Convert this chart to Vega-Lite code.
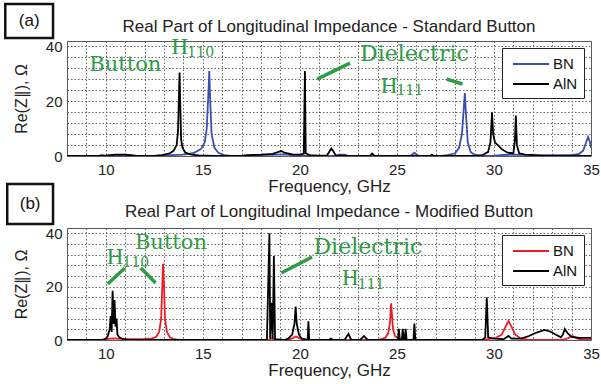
{
  "$schema": "https://vega.github.io/schema/vega-lite/v6.json",
  "background": "white",
  "padding": {"left": 3, "top": 2, "right": 0, "bottom": 2},
  "config": {
    "font": "Liberation Sans",
    "view": {"stroke": "#555", "strokeWidth": 1},
    "axis": {"grid": true, "gridColor": "#666", "gridDash": [1.5, 2], "gridWidth": 1, "domain": false, "ticks": false, "tickSize": 0, "labelOverlap": false, "labelFontSize": 15, "labelColor": "#222", "titleFontSize": 17, "titleColor": "#222", "titleFontWeight": "normal", "labelFont": "Liberation Sans", "titleFont": "Liberation Sans"},
    "title": {"fontSize": 17, "fontWeight": "normal", "color": "#222", "font": "Liberation Sans", "frame": "group"},
    "legend": {"orient": "top-right", "offset": 7, "strokeColor": "#222", "fillColor": "white", "padding": 6, "labelFontSize": 15, "labelColor": "#111", "labelFont": "Liberation Sans", "symbolType": "M-2,0H2", "symbolSize": 324, "symbolStrokeWidth": 2, "symbolOffset": 13, "labelOffset": 12, "rowPadding": 2, "cornerRadius": 0}
  },
  "datasets": {
    "aBN": [
      {"freq": 8, "re": 0}, {"freq": 9.6, "re": 0}, {"freq": 9.8, "re": 0.4}, {"freq": 10.0, "re": 0}, {"freq": 12.5, "re": 0}, {"freq": 13.0, "re": 0.2}, {"freq": 14.0, "re": 0.5}, {"freq": 14.5, "re": 1}, {"freq": 14.9, "re": 2.5}, {"freq": 15.1, "re": 5}, {"freq": 15.2, "re": 10}, {"freq": 15.28, "re": 22}, {"freq": 15.33, "re": 31}, {"freq": 15.38, "re": 20}, {"freq": 15.45, "re": 8}, {"freq": 15.6, "re": 3}, {"freq": 15.8, "re": 1.2}, {"freq": 16.1, "re": 0.3}, {"freq": 16.5, "re": 0}, {"freq": 17.3, "re": 0}, {"freq": 17.6, "re": 0.3}, {"freq": 18.5, "re": 0.4}, {"freq": 19.2, "re": 0.6}, {"freq": 19.6, "re": 0.3}, {"freq": 20, "re": 0}, {"freq": 21.8, "re": 0}, {"freq": 22.0, "re": 0.4}, {"freq": 22.3, "re": 0.5}, {"freq": 22.5, "re": 0}, {"freq": 25.7, "re": 0}, {"freq": 25.9, "re": 1.2}, {"freq": 26.1, "re": 0}, {"freq": 27.3, "re": 0}, {"freq": 27.6, "re": 0.3}, {"freq": 28.0, "re": 1}, {"freq": 28.2, "re": 3}, {"freq": 28.35, "re": 8}, {"freq": 28.45, "re": 18}, {"freq": 28.5, "re": 23}, {"freq": 28.56, "re": 15}, {"freq": 28.65, "re": 5}, {"freq": 28.8, "re": 1.5}, {"freq": 29.0, "re": 0.4}, {"freq": 29.3, "re": 0}, {"freq": 30.0, "re": 0}, {"freq": 30.3, "re": 0.3}, {"freq": 31, "re": 0.5}, {"freq": 32, "re": 0.3}, {"freq": 33, "re": 0.3}, {"freq": 34, "re": 0.3}, {"freq": 34.4, "re": 0.8}, {"freq": 34.6, "re": 2}, {"freq": 34.75, "re": 5}, {"freq": 34.85, "re": 7}, {"freq": 34.95, "re": 5}, {"freq": 35, "re": 3}
    ],
    "aAlN": [
      {"freq": 8, "re": 0}, {"freq": 9.9, "re": 0}, {"freq": 10.2, "re": 0.3}, {"freq": 10.5, "re": 0.5}, {"freq": 11.0, "re": 0.5}, {"freq": 11.3, "re": 0.3}, {"freq": 11.6, "re": 0}, {"freq": 12.5, "re": 0}, {"freq": 12.9, "re": 0.3}, {"freq": 13.3, "re": 1}, {"freq": 13.5, "re": 2}, {"freq": 13.65, "re": 4}, {"freq": 13.72, "re": 9}, {"freq": 13.76, "re": 20}, {"freq": 13.8, "re": 30.5}, {"freq": 13.84, "re": 18}, {"freq": 13.88, "re": 6}, {"freq": 13.95, "re": 3}, {"freq": 14.1, "re": 1.2}, {"freq": 14.4, "re": 0.5}, {"freq": 14.8, "re": 0.2}, {"freq": 15.5, "re": 0}, {"freq": 17.0, "re": 0}, {"freq": 17.3, "re": 0.3}, {"freq": 18.0, "re": 0.5}, {"freq": 18.6, "re": 0.8}, {"freq": 18.9, "re": 1.5}, {"freq": 19.05, "re": 1.8}, {"freq": 19.2, "re": 1.2}, {"freq": 19.6, "re": 0.6}, {"freq": 20.0, "re": 0.5}, {"freq": 20.2, "re": 0.8}, {"freq": 20.26, "re": 31}, {"freq": 20.3, "re": 1}, {"freq": 20.5, "re": 0.3}, {"freq": 20.9, "re": 0.1}, {"freq": 21.4, "re": 0.2}, {"freq": 21.55, "re": 2}, {"freq": 21.62, "re": 2.7}, {"freq": 21.7, "re": 2}, {"freq": 21.85, "re": 0.2}, {"freq": 22.5, "re": 0}, {"freq": 23.6, "re": 0}, {"freq": 23.72, "re": 0.9}, {"freq": 23.85, "re": 0}, {"freq": 26.7, "re": 0}, {"freq": 26.8, "re": 0.5}, {"freq": 26.9, "re": 0}, {"freq": 29.0, "re": 0}, {"freq": 29.4, "re": 0.3}, {"freq": 29.7, "re": 1.5}, {"freq": 29.82, "re": 5}, {"freq": 29.9, "re": 16}, {"freq": 29.96, "re": 8}, {"freq": 30.05, "re": 5}, {"freq": 30.2, "re": 4}, {"freq": 30.4, "re": 2.5}, {"freq": 30.7, "re": 1.2}, {"freq": 31.0, "re": 1}, {"freq": 31.08, "re": 6}, {"freq": 31.13, "re": 14.8}, {"freq": 31.18, "re": 4}, {"freq": 31.3, "re": 1}, {"freq": 31.6, "re": 0.5}, {"freq": 31.9, "re": 0.4}, {"freq": 32.2, "re": 0.2}, {"freq": 32.5, "re": 0}, {"freq": 35, "re": 0}
    ],
    "bBN": [
      {"freq": 8, "re": 0}, {"freq": 9.9, "re": 0}, {"freq": 10.1, "re": 0.4}, {"freq": 10.4, "re": 0.6}, {"freq": 10.8, "re": 0.4}, {"freq": 11.2, "re": 0.3}, {"freq": 12.0, "re": 0.4}, {"freq": 12.4, "re": 0.6}, {"freq": 12.6, "re": 1.2}, {"freq": 12.75, "re": 3}, {"freq": 12.85, "re": 8}, {"freq": 12.9, "re": 18}, {"freq": 12.95, "re": 28.6}, {"freq": 13.0, "re": 20}, {"freq": 13.05, "re": 8}, {"freq": 13.15, "re": 3}, {"freq": 13.3, "re": 1}, {"freq": 13.5, "re": 0.3}, {"freq": 13.8, "re": 0}, {"freq": 18.4, "re": 0}, {"freq": 18.55, "re": 0.6}, {"freq": 18.7, "re": 0}, {"freq": 19.4, "re": 0}, {"freq": 19.6, "re": 0.6}, {"freq": 19.8, "re": 1.3}, {"freq": 20.0, "re": 0.6}, {"freq": 20.2, "re": 0}, {"freq": 24.0, "re": 0}, {"freq": 24.4, "re": 0.8}, {"freq": 24.55, "re": 2.5}, {"freq": 24.65, "re": 7}, {"freq": 24.7, "re": 13.8}, {"freq": 24.74, "re": 10}, {"freq": 24.8, "re": 4}, {"freq": 24.9, "re": 1.5}, {"freq": 25.1, "re": 0.4}, {"freq": 25.4, "re": 0}, {"freq": 29.5, "re": 0}, {"freq": 29.7, "re": 0.3}, {"freq": 30.1, "re": 0.8}, {"freq": 30.4, "re": 2}, {"freq": 30.6, "re": 5}, {"freq": 30.75, "re": 7.1}, {"freq": 30.9, "re": 5}, {"freq": 31.1, "re": 2}, {"freq": 31.4, "re": 0.5}, {"freq": 31.8, "re": 0}, {"freq": 33.5, "re": 0}, {"freq": 33.8, "re": 0.6}, {"freq": 34.05, "re": 1.5}, {"freq": 34.3, "re": 0.5}, {"freq": 34.6, "re": 0}, {"freq": 35, "re": 0}
    ],
    "bAlN": [
      {"freq": 8, "re": 0}, {"freq": 9.8, "re": 0}, {"freq": 10.0, "re": 0.5}, {"freq": 10.1, "re": 1.5}, {"freq": 10.2, "re": 4}, {"freq": 10.25, "re": 9}, {"freq": 10.3, "re": 3}, {"freq": 10.35, "re": 18.5}, {"freq": 10.4, "re": 6}, {"freq": 10.45, "re": 15}, {"freq": 10.5, "re": 5}, {"freq": 10.55, "re": 8}, {"freq": 10.6, "re": 2}, {"freq": 10.7, "re": 1}, {"freq": 10.9, "re": 0.3}, {"freq": 11.2, "re": 0}, {"freq": 18.3, "re": 0}, {"freq": 18.43, "re": 40}, {"freq": 18.47, "re": 0.5}, {"freq": 18.55, "re": 14}, {"freq": 18.6, "re": 0.5}, {"freq": 18.66, "re": 31.5}, {"freq": 18.72, "re": 0.3}, {"freq": 19.2, "re": 0}, {"freq": 19.4, "re": 0.5}, {"freq": 19.6, "re": 2}, {"freq": 19.72, "re": 6}, {"freq": 19.78, "re": 12.5}, {"freq": 19.84, "re": 6}, {"freq": 19.95, "re": 2}, {"freq": 20.1, "re": 0.5}, {"freq": 20.4, "re": 0}, {"freq": 20.44, "re": 7}, {"freq": 20.48, "re": 0}, {"freq": 21.5, "re": 0}, {"freq": 21.6, "re": 0.5}, {"freq": 21.7, "re": 0}, {"freq": 22.3, "re": 0}, {"freq": 22.5, "re": 2.3}, {"freq": 22.65, "re": 0}, {"freq": 23.1, "re": 0}, {"freq": 23.3, "re": 1.5}, {"freq": 23.5, "re": 0}, {"freq": 25.05, "re": 0}, {"freq": 25.1, "re": 4.2}, {"freq": 25.15, "re": 0}, {"freq": 25.25, "re": 0}, {"freq": 25.3, "re": 4.2}, {"freq": 25.35, "re": 0}, {"freq": 25.4, "re": 0}, {"freq": 25.45, "re": 4.2}, {"freq": 25.5, "re": 0}, {"freq": 25.85, "re": 0}, {"freq": 25.9, "re": 6.2}, {"freq": 25.95, "re": 0}, {"freq": 29.4, "re": 0}, {"freq": 29.55, "re": 1}, {"freq": 29.63, "re": 16}, {"freq": 29.7, "re": 1}, {"freq": 30.0, "re": 0.5}, {"freq": 30.5, "re": 0.3}, {"freq": 30.75, "re": 1.5}, {"freq": 30.9, "re": 0.5}, {"freq": 31.4, "re": 0.5}, {"freq": 31.8, "re": 1.5}, {"freq": 32.2, "re": 2.8}, {"freq": 32.6, "re": 3.8}, {"freq": 32.9, "re": 3.2}, {"freq": 33.2, "re": 2}, {"freq": 33.45, "re": 1}, {"freq": 33.55, "re": 2}, {"freq": 33.65, "re": 4.1}, {"freq": 33.8, "re": 2.5}, {"freq": 34.0, "re": 1.2}, {"freq": 34.4, "re": 0.8}, {"freq": 35, "re": 0.8}
    ]
  },
  "spacing": 72,
  "bounds": "flush",
  "resolve": {"scale": {"x": "independent", "y": "independent", "color": "independent"}, "legend": {"color": "independent"}},
  "vconcat": [
    {
      "width": 524, "height": 115,
      "title": {"text": "Real Part of Longitudinal Impedance - Standard Button", "offset": -33},
      "encoding": {
        "x": {"field": "freq", "type": "quantitative", "scale": {"domain": [8, 35], "nice": false, "zero": false}, "axis": {"title": "Frequency, GHz", "values": [8,9,10,11,12,13,14,15,16,17,18,19,20,21,22,23,24,25,26,27,28,29,30,31,32,33,34,35], "labelExpr": "datum.value % 5 === 0 ? datum.label : ''", "labelFlush": false, "labelOverlap": false, "labelPadding": 6, "titlePadding": 1}},
        "y": {"field": "re", "type": "quantitative", "scale": {"domain": [0, 42], "nice": false}, "axis": {"title": "Re(Z∥), Ω", "titleFontSize": 16, "values": [0,4,8,12,16,20,24,28,32,36,40], "labelExpr": "datum.value % 20 === 0 ? datum.label : ''", "labelOverlap": false, "labelPadding": 5, "titlePadding": 16}}
      },
      "layer": [
        {
          "data": {"name": "aBN"},
          "mark": {"type": "line", "strokeWidth": 1.8, "clip": true},
          "encoding": {"color": {"datum": "BN", "type": "nominal", "scale": {"domain": ["BN", "AlN"], "range": ["#3a4fb0", "#000000"]}, "legend": {"title": null}}}
        },
        {
          "data": {"name": "aAlN"},
          "mark": {"type": "line", "strokeWidth": 1.8, "clip": true},
          "encoding": {"color": {"datum": "AlN", "type": "nominal"}}
        },
        {
          "data": {"values": [{"freq": 20.89, "re": 28.1, "freq2": 22.58, "re2": 33.9}, {"freq": 27.56, "re": 28.1, "freq2": 28.38, "re2": 26.3}]},
          "mark": {"type": "rule", "color": "#2e9b45", "strokeWidth": 3.5},
          "encoding": {"x2": {"field": "freq2"}, "y2": {"field": "re2"}}
        },
        {
          "data": {"values": [{"label": "Button", "freq": 9.15, "re": 31.0}]},
          "mark": {"type": "text", "font": "DejaVu Serif", "fontSize": 21, "color": "#2e9b45", "align": "left", "baseline": "alphabetic"},
          "encoding": {"text": {"field": "label"}}
        },
        {
          "data": {"values": [{"label": "Dielectric", "freq": 23.1, "re": 34.7}]},
          "mark": {"type": "text", "font": "DejaVu Serif", "fontSize": 22, "color": "#2e9b45", "align": "left", "baseline": "alphabetic"},
          "encoding": {"text": {"field": "label"}}
        },
        {
          "data": {"values": [{"label": "H", "freq": 13.39, "re": 37.2}, {"label": "H", "freq": 24.17, "re": 23.0}]},
          "mark": {"type": "text", "font": "Liberation Serif", "fontSize": 23, "color": "#2e9b45", "align": "left", "baseline": "alphabetic"},
          "encoding": {"text": {"field": "label"}}
        },
        {
          "data": {"values": [{"label": "110", "freq": 14.2, "re": 36.3}, {"label": "111", "freq": 24.98, "re": 22.4}]},
          "mark": {"type": "text", "font": "DejaVu Serif", "fontSize": 14, "color": "#2e9b45", "align": "left", "baseline": "alphabetic"},
          "encoding": {"text": {"field": "label"}}
        },
        {
          "data": {"values": [{"freq": 4.82, "re": 43.1, "freq2": 7.28, "re2": 55.5}]},
          "mark": {"type": "rect", "fill": null, "fillOpacity": 0, "stroke": "#111", "strokeWidth": 2.5},
          "encoding": {"x2": {"field": "freq2"}, "y2": {"field": "re2"}}
        },
        {
          "data": {"values": [{"label": "(a)", "freq": 6.05, "re": 49.3}]},
          "mark": {"type": "text", "font": "Liberation Sans", "fontSize": 17, "color": "#111", "align": "center", "baseline": "middle"},
          "encoding": {"text": {"field": "label"}}
        }
      ]
    },
    {
      "width": 524, "height": 112,
      "title": {"text": "Real Part of Longitudinal Impedance - Modified Button", "offset": -38},
      "encoding": {
        "x": {"field": "freq", "type": "quantitative", "scale": {"domain": [8, 35], "nice": false, "zero": false}, "axis": {"title": "Frequency, GHz", "values": [8,9,10,11,12,13,14,15,16,17,18,19,20,21,22,23,24,25,26,27,28,29,30,31,32,33,34,35], "labelExpr": "datum.value % 5 === 0 ? datum.label : ''", "labelFlush": false, "labelOverlap": false, "labelPadding": 6, "titlePadding": 1}},
        "y": {"field": "re", "type": "quantitative", "scale": {"domain": [0, 42], "nice": false}, "axis": {"title": "Re(Z∥), Ω", "titleFontSize": 16, "values": [0,4,8,12,16,20,24,28,32,36,40], "labelExpr": "datum.value % 20 === 0 ? datum.label : ''", "labelOverlap": false, "labelPadding": 5, "titlePadding": 16}}
      },
      "layer": [
        {
          "data": {"name": "bBN"},
          "mark": {"type": "line", "strokeWidth": 1.8, "clip": true},
          "encoding": {"color": {"datum": "BN", "type": "nominal", "scale": {"domain": ["BN", "AlN"], "range": ["#ee1c25", "#000000"]}, "legend": {"title": null}}}
        },
        {
          "data": {"name": "bAlN"},
          "mark": {"type": "line", "strokeWidth": 1.8, "clip": true},
          "encoding": {"color": {"datum": "AlN", "type": "nominal"}}
        },
        {
          "data": {"values": [{"freq": 10.10, "re": 21.0, "freq2": 10.98, "re2": 27.0}, {"freq": 11.80, "re": 27.0, "freq2": 12.57, "re2": 21.4}, {"freq": 19.04, "re": 25.1, "freq2": 20.63, "re2": 31.1}]},
          "mark": {"type": "rule", "color": "#2e9b45", "strokeWidth": 3.5},
          "encoding": {"x2": {"field": "freq2"}, "y2": {"field": "re2"}}
        },
        {
          "data": {"values": [{"label": "Button", "freq": 11.5, "re": 34.1}]},
          "mark": {"type": "text", "font": "DejaVu Serif", "fontSize": 21, "color": "#2e9b45", "align": "left", "baseline": "alphabetic"},
          "encoding": {"text": {"field": "label"}}
        },
        {
          "data": {"values": [{"label": "Dielectric", "freq": 20.7, "re": 32.2}]},
          "mark": {"type": "text", "font": "DejaVu Serif", "fontSize": 22, "color": "#2e9b45", "align": "left", "baseline": "alphabetic"},
          "encoding": {"text": {"field": "label"}}
        },
        {
          "data": {"values": [{"label": "H", "freq": 10.05, "re": 28.5}, {"label": "H", "freq": 22.17, "re": 20.6}]},
          "mark": {"type": "text", "font": "Liberation Serif", "fontSize": 23, "color": "#2e9b45", "align": "left", "baseline": "alphabetic"},
          "encoding": {"text": {"field": "label"}}
        },
        {
          "data": {"values": [{"label": "110", "freq": 10.86, "re": 27.5}, {"label": "111", "freq": 22.98, "re": 19.3}]},
          "mark": {"type": "text", "font": "DejaVu Serif", "fontSize": 14, "color": "#2e9b45", "align": "left", "baseline": "alphabetic"},
          "encoding": {"text": {"field": "label"}}
        },
        {
          "data": {"values": [{"freq": 4.92, "re": 43.5, "freq2": 7.28, "re2": 58.5}]},
          "mark": {"type": "rect", "fill": null, "fillOpacity": 0, "stroke": "#111", "strokeWidth": 2.5},
          "encoding": {"x2": {"field": "freq2"}, "y2": {"field": "re2"}}
        },
        {
          "data": {"values": [{"label": "(b)", "freq": 6.1, "re": 51.0}]},
          "mark": {"type": "text", "font": "Liberation Sans", "fontSize": 17, "color": "#111", "align": "center", "baseline": "middle"},
          "encoding": {"text": {"field": "label"}}
        }
      ]
    }
  ]
}
